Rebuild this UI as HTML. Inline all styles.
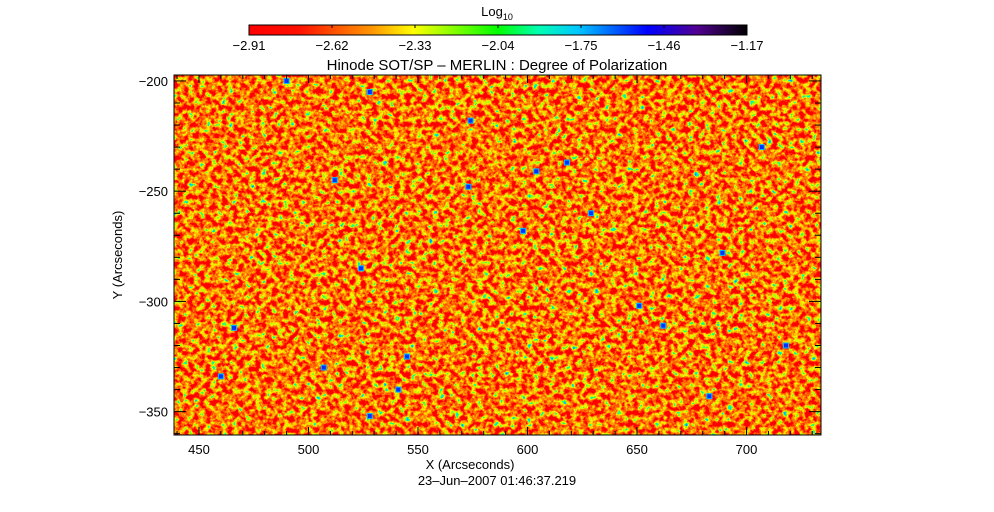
<!DOCTYPE html>
<html><head><meta charset="utf-8">
<style>
html,body{margin:0;padding:0;background:#fff;}
svg{display:block;font-family:"Liberation Sans",sans-serif;}
</style></head>
<body>
<svg id="chart" width="994" height="512" viewBox="0 0 994 512" xmlns="http://www.w3.org/2000/svg">
<defs>
<linearGradient id="cbg" x1="0" x2="1" y1="0" y2="0">
<stop offset="0" stop-color="#ff0000"/>
<stop offset="0.1" stop-color="#ff1000"/>
<stop offset="0.25" stop-color="#ff9a00"/>
<stop offset="0.33" stop-color="#ffff00"/>
<stop offset="0.5" stop-color="#00ff00"/>
<stop offset="0.58" stop-color="#00ffb0"/>
<stop offset="0.66" stop-color="#00c8ff"/>
<stop offset="0.8" stop-color="#0000ff"/>
<stop offset="0.9" stop-color="#500090"/>
<stop offset="1" stop-color="#000000"/>
</linearGradient>
<filter id="noise" x="0" y="0" width="100%" height="100%">
<feTurbulence type="fractalNoise" baseFrequency="0.18" numOctaves="3" seed="7"/>
<feColorMatrix type="matrix" values="1 0 0 0 0  1 0 0 0 0  1 0 0 0 0  0 0 0 0 1"/>
<feComponentTransfer>
<feFuncR type="discrete" tableValues="1 1 1 1 1 1 1 1 1 1 1 1 1 0.9 0.3 0 0 0 0 0"/>
<feFuncG type="discrete" tableValues="0 0 0 0 0 0 0 0 0.05 0.12 0.25 0.45 0.7 0.95 1 1 0.8 0.4 0.2 0.2"/>
<feFuncB type="discrete" tableValues="0 0 0 0 0 0 0 0 0 0 0 0 0 0 0 0.3 0.8 1 1 1"/>
</feComponentTransfer>
</filter>
<clipPath id="pc"><rect x="174" y="75" width="647" height="360"/></clipPath>
</defs>
<text x="497" y="16" font-size="13" text-anchor="middle">Log<tspan font-size="9" dy="4">10</tspan></text>
<rect x="249" y="25" width="498" height="10" fill="url(#cbg)" stroke="#000"/>
<g id="cbticks"></g>
<text x="497" y="70" font-size="15" text-anchor="middle">Hinode SOT/SP – MERLIN : Degree of Polarization</text>
<rect x="174" y="75" width="647" height="360" fill="#ff4000" filter="url(#noise)"/>
<g id="blobs" clip-path="url(#pc)"></g>
<rect x="174" y="75" width="647" height="360" fill="none" stroke="#000"/>
<g id="axes"></g>
<text x="470" y="469" font-size="13" text-anchor="middle">X (Arcseconds)</text>
<text x="497" y="485" font-size="13" text-anchor="middle">23–Jun–2007 01:46:37.219</text>
<text transform="translate(122,255) rotate(-90)" font-size="13" text-anchor="middle">Y (Arcseconds)</text>
</svg>
<script>
const xTicks=[450,500,550,600,650,700];
const yTicks=[-200,-250,-300,-350];
const cbLabels=["-2.91","-2.62","-2.33","-2.04","-1.75","-1.46","-1.17"];
const blobX=[490,528,574,598,629,618,512,604,573,524,541,718,662,460,507,651,689,466,683,707,528,545];
const blobY=[-200,-205,-218,-268,-260,-237,-245,-241,-248,-285,-340,-320,-311,-334,-330,-302,-278,-312,-343,-230,-352,-325];
const NS="http://www.w3.org/2000/svg";
const L=174,R=821,T=75,B=435,x0=438.6,x1=734,y0=-197.3,y1=-360.6;
const sx=v=>L+(v-x0)/(x1-x0)*(R-L);
const sy=v=>T+(v-y0)/(y1-y0)*(B-T);
function mk(t,a,p){const e=document.createElementNS(NS,t);for(const k in a)e.setAttribute(k,a[k]);p.appendChild(e);return e;}
const ax=document.getElementById('axes');
xTicks.forEach(v=>{const x=sx(v);
 const t=mk('line',{x1:x,x2:x,y1:B,y2:B-8,stroke:'#000'},ax);
 
 
 const t2=mk('line',{x1:x,x2:x,y1:T,y2:T+8,stroke:'#000'},ax);
 
 
 const l=mk('text',{x:x,y:B+19,'font-size':13,'text-anchor':'middle'},ax);l.textContent=v;
 
 
});
for(let v=440;v<=730;v+=10){const x=sx(v);if(v%50){mk('line',{x1:x,x2:x,y1:B,y2:B-4,stroke:'#000'},ax);mk('line',{x1:x,x2:x,y1:T,y2:T+4,stroke:'#000'},ax);}}
yTicks.forEach(v=>{const y=sy(v);
 const t=mk('line',{x1:L,x2:L+12,y1:y,y2:y,stroke:'#000'},ax);
 
 
 mk('line',{x1:R,x2:R-12,y1:y,y2:y,stroke:'#000'},ax);
 const l=mk('text',{x:L-6,y:y+5,'font-size':13,'text-anchor':'end'},ax);l.textContent=String(v).replace('-','−');
 
 
});
for(let v=-200;v>=-360;v-=10){if(v%50){const y=sy(v);mk('line',{x1:L,x2:L+6,y1:y,y2:y,stroke:'#000'},ax);mk('line',{x1:R,x2:R-6,y1:y,y2:y,stroke:'#000'},ax);}}
const cb=document.getElementById('cbticks');
cbLabels.forEach((s,i)=>{const x=249+i*(498/(cbLabels.length-1));
 if(i>0&&i<cbLabels.length-1)mk('line',{x1:x,x2:x,y1:25,y2:28,stroke:'#000'},cb);
 const l=mk('text',{x:x,y:50,'font-size':13,'text-anchor':'middle'},cb);l.textContent=s.replace('-','−');
 
 
});
const bl=document.getElementById('blobs');
blobX.forEach((v,i)=>{
 const c=mk('rect',{x:sx(v)-2.5,y:sy(blobY[i])-2.5,width:5,height:5,fill:'#0030ff',stroke:'#00c0ff','stroke-width':1},bl);
 
 
});
</script>
</body></html>
